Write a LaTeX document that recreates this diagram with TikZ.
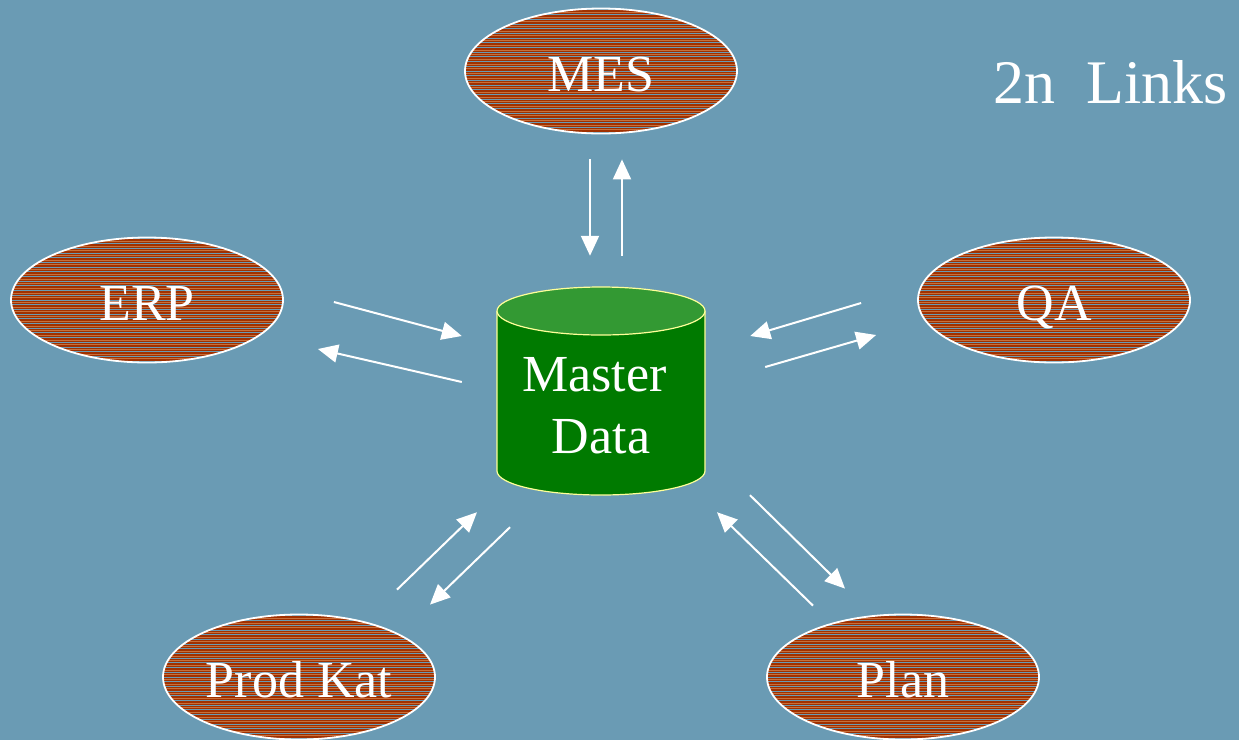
\documentclass[tikz,border=0pt]{standalone}
\usepackage{fontspec}
\setmainfont{Liberation Serif}
\usetikzlibrary{shapes.geometric,arrows.meta,calc}
\definecolor{bg}{HTML}{6A9BB4}
\definecolor{brick}{HTML}{A03000}
\definecolor{stripeblue}{HTML}{6A9BB4}
\definecolor{stripelight}{HTML}{C8703A}
\definecolor{cylbody}{HTML}{007A00}
\definecolor{cyltop}{HTML}{339933}
\definecolor{cylrim}{HTML}{FFFF99}

\begin{document}
\begin{tikzpicture}[x=1pt,y=-1pt,
  system/.style={ellipse, minimum width=272, minimum height=125, inner sep=0,
    fill=brick, draw=white, line width=1.8, text=white,
    font=\fontsize{52}{52}\selectfont, text height=44, text depth=4,
    path picture={
      \foreach \k in {-15,...,15} {
        \draw[stripeblue, line width=1]
          ($(path picture bounding box.center)+(-140,\k*4.7)$) -- ++(280,0);
        \draw[stripelight, line width=0.5]
          ($(path picture bounding box.center)+(-140,\k*4.7+2.3)$) -- ++(280,0);
      }}},
  flow/.style={draw=white, line width=2, -{Triangle[length=20,width=18]}},
  label/.style={text=white, inner sep=0, anchor=base}
]
\fill[bg] (0,0) rectangle (1239,740);
\useasboundingbox (0,0) rectangle (1239,740);

% systems around the hub
\node[system] (mes) at (601,71) {MES};
\node[system] (erp) at (147,300) {ERP};
\node[system] (qa)  at (1054,300) {QA};
\node[system] (pk)  at (299,677) {Prod Kat};
\node[system] (pl)  at (903,677) {Plan};

% master data cylinder
\node[minimum width=208, minimum height=208, inner sep=0] (md) at (601,391) {};
\filldraw[fill=cylbody, draw=cylrim, line width=1.2]
  (497,311) -- (497,471) arc[start angle=180, end angle=0, x radius=104, y radius=24]
  -- (705,311);
\filldraw[fill=cyltop, draw=cylrim, line width=1.2]
  (601,311) ellipse[x radius=104, y radius=24];
\node[label, font=\fontsize{52}{52}\selectfont] (mdtop) at (594.5,391) {Master};
\node[label, font=\fontsize{52}{52}\selectfont] (mdbot) at (601,453) {Data};

% title
\node[label, anchor=base west, font=\fontsize{62}{62}\selectfont] (title) at (993,103) {2n\ \ Links};

% links
\draw[flow] ($(mes.south)+(-11,25)$) -- ($(md.north)+(-11,-31)$);
\draw[flow] ($(md.north)+(21,-31)$) -- ($(mes.south)+(21,25)$);

\draw[flow] ($(erp.east)+(50,2)$) -- ($(md.west)+(-35,-55)$);
\draw[flow] ($(md.west)+(-35,-9)$) -- ($(erp.east)+(34,49)$);

\draw[flow] ($(qa.west)+(-56,3)$) -- ($(md.east)+(45,-55)$);
\draw[flow] ($(md.east)+(60,-24)$) -- ($(qa.west)+(-41,35)$);

\draw[flow] ($(pk.north)+(98,-24)$) -- ($(md.south)+(-124,17)$);
\draw[flow] ($(md.south)+(-91,32)$) -- ($(pk.north)+(131,-9)$);

\draw[flow] ($(md.south)+(149,0)$) -- ($(pl.north)+(-58,-25)$);
\draw[flow] ($(pl.north)+(-90,-8)$) -- ($(md.south)+(116,17)$);
\end{tikzpicture}
\end{document}
